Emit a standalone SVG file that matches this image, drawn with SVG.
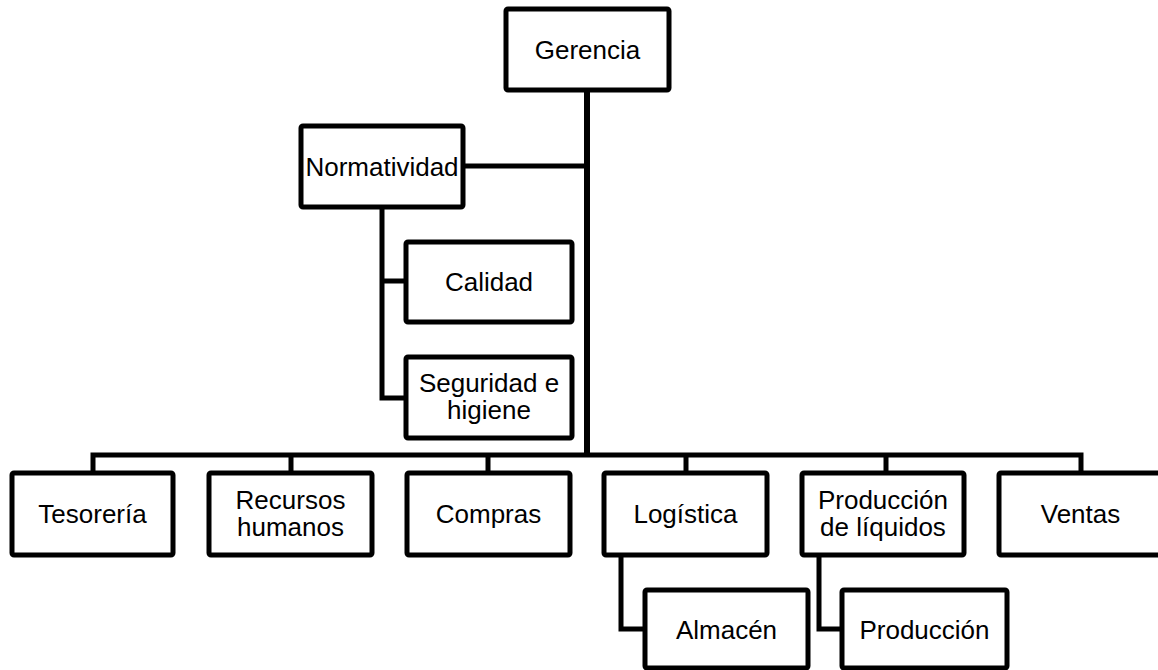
<svg xmlns="http://www.w3.org/2000/svg" width="1158" height="670" viewBox="0 0 1158 670">
<style>
.box{fill:#fff;stroke:#000;stroke-width:5;stroke-linejoin:round}
.t{font-family:"Liberation Sans",Arial,sans-serif;font-size:26px;fill:#000;text-anchor:middle}
.c{fill:none;stroke:#000;stroke-width:5;stroke-linejoin:miter}
</style>
<rect width="1158" height="670" fill="#fff"/>
<g id="connectors">
<path class="c" d="M587 90V455" style="stroke-width:6"/>
<path class="c" d="M463 166H587"/>
<path class="c" d="M382 207V398H406M382 281H406"/>
<path class="c" d="M93 473V455H1081V473M291 455V473M488 455V473M686 455V473M886 455V473"/>
<path class="c" d="M621 555V629H645"/>
<path class="c" d="M819 555V629H842"/>
</g>
<g id="gerencia"><rect class="box" x="506" y="9" width="163" height="81" rx="2"/><text class="t" x="587.5" y="59">Gerencia</text></g>
<g id="normatividad"><rect class="box" x="301" y="126" width="162" height="81" rx="2"/><text class="t" x="382" y="176">Normatividad</text></g>
<g id="calidad"><rect class="box" x="406" y="242" width="166" height="80" rx="2"/><text class="t" x="489" y="291">Calidad</text></g>
<g id="seguridad"><rect class="box" x="406" y="357" width="166" height="81" rx="2"/><text class="t" x="489" y="392">Seguridad e</text><text class="t" x="489" y="419">higiene</text></g>
<g id="tesoreria"><rect class="box" x="12" y="473" width="161" height="82" rx="2"/><text class="t" x="92.5" y="523">Tesorería</text></g>
<g id="recursos"><rect class="box" x="209" y="473" width="163" height="82" rx="2"/><text class="t" x="290.5" y="509">Recursos</text><text class="t" x="290.5" y="536">humanos</text></g>
<g id="compras"><rect class="box" x="407" y="473" width="163" height="82" rx="2"/><text class="t" x="488.5" y="523">Compras</text></g>
<g id="logistica"><rect class="box" x="604" y="473" width="163" height="82" rx="2"/><text class="t" x="685.5" y="523">Logística</text></g>
<g id="produccion-liquidos"><rect class="box" x="802" y="473" width="162" height="82" rx="2"/><text class="t" x="883" y="509">Producción</text><text class="t" x="883" y="536">de líquidos</text></g>
<g id="ventas"><rect class="box" x="999" y="473" width="163" height="82" rx="2"/><text class="t" x="1080.5" y="523">Ventas</text></g>
<g id="almacen"><rect class="box" x="645" y="590" width="163" height="78" rx="2"/><text class="t" x="726.5" y="639">Almacén</text></g>
<g id="produccion"><rect class="box" x="842" y="590" width="165" height="78" rx="2"/><text class="t" x="924.5" y="639">Producción</text></g>
</svg>
